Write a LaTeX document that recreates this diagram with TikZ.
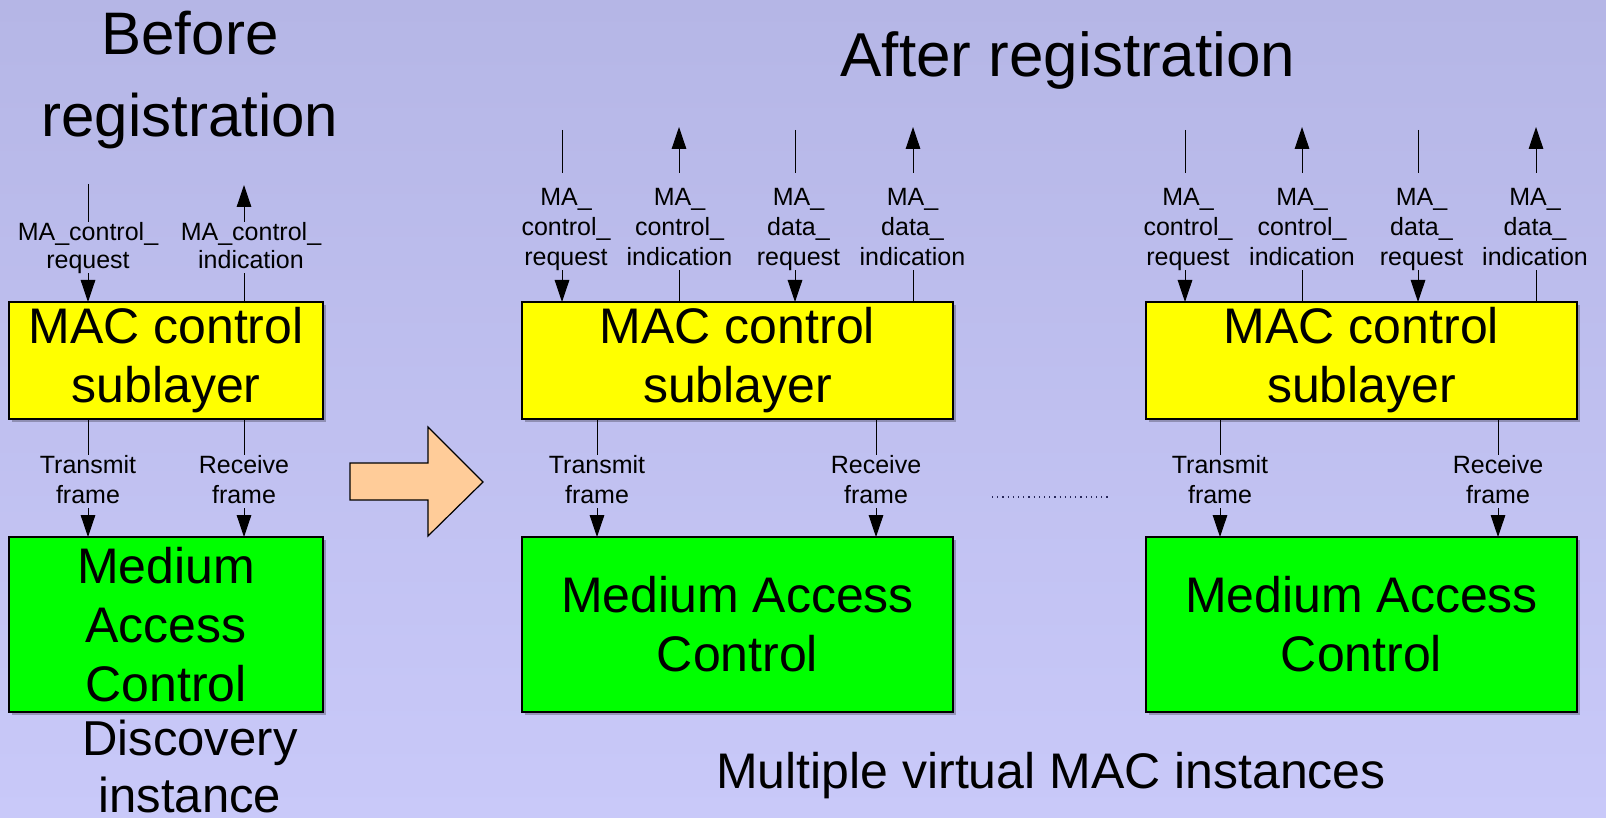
\documentclass[tikz,border=0pt]{standalone}
\usepackage{fontspec}
\setmainfont{Liberation Sans}
\usetikzlibrary{arrows.meta,shadows}

\definecolor{bgtop}{RGB}{181,182,230}
\definecolor{bgbot}{RGB}{201,201,249}
\definecolor{macyellow}{RGB}{255,255,0}
\definecolor{macgreen}{RGB}{0,255,0}
\definecolor{peach}{RGB}{255,204,153}
\definecolor{dotline}{RGB}{40,40,90}

\tikzset{
  layerbox/.style={draw=black, line width=0.6pt, inner sep=0pt, outer sep=0pt,
    align=center, font=\fontsize{25}{29.5}\selectfont,
    drop shadow={shadow xshift=1.5pt, shadow yshift=-1.5pt, fill=black, opacity=0.25}},
  ctrlbox/.style={layerbox, fill=macyellow, minimum height=58.5pt},
  macbox/.style={layerbox, fill=macgreen, minimum height=87.5pt},
  narrowbox/.style={minimum width=157pt},
  widebox/.style={minimum width=215.5pt},
  prim/.style={inner sep=0pt, outer sep=0pt, align=center,
    font=\fontsize{12.5}{14}\selectfont, text depth=2.6pt},
  primloose/.style={prim, font=\fontsize{12.5}{15}\selectfont},
  sigline/.style={line width=0.5pt, draw=black},
  sigarrow/.style={sigline, -{Triangle[length=11pt,width=7.3pt]}},
  gap/.style={shorten >=7.5pt},
  gapstart/.style={shorten <=7.5pt},
}

\begin{document}
\begin{tikzpicture}[x=0.5pt, y=-0.5pt]
  % backdrop
  \shade[top color=bgtop, bottom color=bgbot] (0,0) rectangle (1606,818);
  \useasboundingbox (0,0) rectangle (1606,818);

  % ---------- titles ----------
  \node[font=\fontsize{30}{41}\selectfont, align=center, inner sep=0pt] (before) at (190,80) {Before\\registration};
  \node[font=\fontsize{31}{37}\selectfont, anchor=base, inner sep=0pt] (after) at (1068,77) {After registration};

  % ---------- discovery instance ----------
  \node[ctrlbox, narrowbox] (LY) at (166,360.5) {MAC control\\sublayer};
  \node[macbox, narrowbox] (LG) at (166,624.5) {Medium\\Access\\Control};

  \coordinate (lq) at (88,184);
  \coordinate (li) at (244,185);
  \node[prim, anchor=north] (lqt) at (88,222) {MA\_control\_\\request};
  \node[prim, anchor=north] (lit) at (251,222) {MA\_control\_\\indication};
  \draw[sigline] (lq) -- (lq |- lqt.north);
  \draw[sigarrow] (lq |- lqt.south) -- (lq |- LY.north);
  \draw[sigarrow] (li |- lit.north) -- (li);
  \draw[sigline] (li |- LY.north) -- (li |- lit.south);

  \node[primloose, anchor=north] (ltx) at (88,455) {Transmit\\frame};
  \node[primloose, anchor=north] (lrx) at (244,455) {Receive\\frame};
  \draw[sigline] (ltx.north |- LY.south) -- (ltx.north);
  \draw[sigarrow] (ltx.south) -- (ltx.south |- LG.north);
  \draw[sigline] (lrx.north |- LY.south) -- (lrx.north);
  \draw[sigarrow] (lrx.south) -- (lrx.south |- LG.north);

  \node[font=\fontsize{24.5}{28.5}\selectfont, align=center, anchor=north, inner sep=0pt] (disc) at (190,720) {Discovery\\instance};

  % ---------- transition arrow ----------
  \draw[line width=0.6pt, fill=peach] (350,463) -- (428,463) -- (428,427) -- (483,482)
    -- (428,536) -- (428,500) -- (350,500) -- cycle;

  % ---------- first virtual instance ----------
  \node[ctrlbox, widebox] (MY) at (737.5,360.5) {MAC control\\sublayer};
  \node[macbox, widebox] (MG) at (737.5,624.5) {Medium Access\\Control};

  \coordinate (mcq) at (562,130);
  \coordinate (mci) at (679,127);
  \coordinate (mdq) at (795,130);
  \coordinate (mdi) at (913,127);
  \node[primloose, anchor=north] (mcqt) at (566,188) {MA\_\\control\_\\request};
  \node[primloose, anchor=north] (mcit) at (679.5,188) {MA\_\\control\_\\indication};
  \node[primloose, anchor=north] (mdqt) at (798.5,188) {MA\_\\data\_\\request};
  \node[primloose, anchor=north] (mdit) at (912.5,188) {MA\_\\data\_\\indication};

  \draw[sigline, gap] (mcq) -- (mcq |- mcqt.north);
  \draw[sigarrow] (mcq |- mcqt.south) -- (mcq |- MY.north);
  \draw[sigarrow, gapstart] (mci |- mcit.north) -- (mci);
  \draw[sigline] (mci |- MY.north) -- (mci |- mcit.south);
  \draw[sigline, gap] (mdq) -- (mdq |- mdqt.north);
  \draw[sigarrow] (mdq |- mdqt.south) -- (mdq |- MY.north);
  \draw[sigarrow, gapstart] (mdi |- mdit.north) -- (mdi);
  \draw[sigline] (mdi |- MY.north) -- (mdi |- mdit.south);

  \node[primloose, anchor=north] (mtx) at (597,455) {Transmit\\frame};
  \node[primloose, anchor=north] (mrx) at (876,455) {Receive\\frame};
  \draw[sigline] (mtx.north |- MY.south) -- (mtx.north);
  \draw[sigarrow] (mtx.south) -- (mtx.south |- MG.north);
  \draw[sigline] (mrx.north |- MY.south) -- (mrx.north);
  \draw[sigarrow] (mrx.south) -- (mrx.south |- MG.north);

  % ellipsis between instances
  \coordinate (dots-a) at (992,497);
  \coordinate (dots-b) at (1110,497);
  \draw[dotline, dotted, line width=0.6pt] (dots-a) -- (dots-b);

  % ---------- last virtual instance ----------
  \node[ctrlbox, widebox] (RY) at (1361.5,360.5) {MAC control\\sublayer};
  \node[macbox, widebox] (RG) at (1361.5,624.5) {Medium Access\\Control};

  \coordinate (rcq) at (1185,130);
  \coordinate (rci) at (1302,127);
  \coordinate (rdq) at (1418,130);
  \coordinate (rdi) at (1536,127);
  \node[primloose, anchor=north] (rcqt) at (1188,188) {MA\_\\control\_\\request};
  \node[primloose, anchor=north] (rcit) at (1302,188) {MA\_\\control\_\\indication};
  \node[primloose, anchor=north] (rdqt) at (1421.5,188) {MA\_\\data\_\\request};
  \node[primloose, anchor=north] (rdit) at (1535,188) {MA\_\\data\_\\indication};

  \draw[sigline, gap] (rcq) -- (rcq |- rcqt.north);
  \draw[sigarrow] (rcq |- rcqt.south) -- (rcq |- RY.north);
  \draw[sigarrow, gapstart] (rci |- rcit.north) -- (rci);
  \draw[sigline] (rci |- RY.north) -- (rci |- rcit.south);
  \draw[sigline, gap] (rdq) -- (rdq |- rdqt.north);
  \draw[sigarrow] (rdq |- rdqt.south) -- (rdq |- RY.north);
  \draw[sigarrow, gapstart] (rdi |- rdit.north) -- (rdi);
  \draw[sigline] (rdi |- RY.north) -- (rdi |- rdit.south);

  \node[primloose, anchor=north] (rtx) at (1220,455) {Transmit\\frame};
  \node[primloose, anchor=north] (rrx) at (1498,455) {Receive\\frame};
  \draw[sigline] (rtx.north |- RY.south) -- (rtx.north);
  \draw[sigarrow] (rtx.south) -- (rtx.south |- RG.north);
  \draw[sigline] (rrx.north |- RY.south) -- (rrx.north);
  \draw[sigarrow] (rrx.south) -- (rrx.south |- RG.north);

  \node[font=\fontsize{25}{30}\selectfont, anchor=base, inner sep=0pt] (multi) at (1051,788) {Multiple virtual MAC instances};
\end{tikzpicture}
\end{document}
